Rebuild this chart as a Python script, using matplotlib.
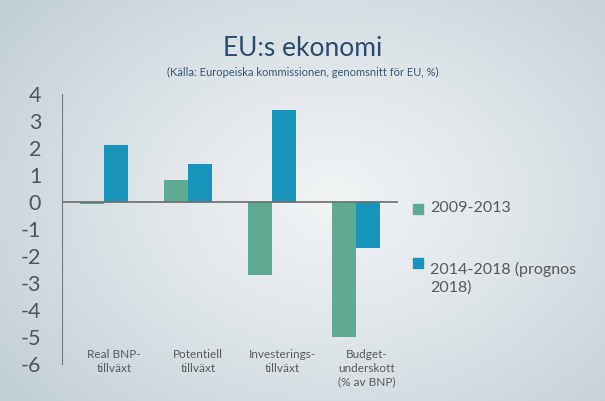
import numpy as np
import matplotlib.pyplot as plt
from matplotlib.patches import Rectangle
from matplotlib.colors import LinearSegmentedColormap

plt.rcParams['font.family'] = ['Lato', 'DejaVu Sans']

categories = ['Real BNP-\ntillväxt', 'Potentiell\ntillväxt',
              'Investerings-\ntillväxt', 'Budget-\nunderskott\n(% av BNP)']
s2009_2013 = [-0.08, 0.82, -2.7, -5.0]
s2014_2018 = [2.1, 1.4, 3.4, -1.7]
series_names = ['2009-2013', '2014-2018 (prognos\n2018)']
yticks = [4, 3, 2, 1, 0, -1, -2, -3, -4, -5, -6]

c_green = '#5eaa93'
c_blue = '#1893ba'

fig = plt.figure(figsize=(6.05, 4.01), dpi=100)

# bakgrund med mjuk gradient
bg = fig.add_axes([0, 0, 1, 1])
yy, xx = np.mgrid[0:1:200j, 0:1:300j]
r = np.sqrt(((xx - 0.55) / 0.8) ** 2 + ((yy - 0.5) / 0.9) ** 2)
cmap = LinearSegmentedColormap.from_list('bg', ['#f2f4f5', '#dde4e8', '#c3cfd7'])
bg.imshow(r, cmap=cmap, extent=[0, 1, 0, 1], aspect='auto', vmin=0, vmax=0.85)
bg.axis('off')

ax = fig.add_axes([0.1025, 0.092, 0.556, 0.674])
ax.patch.set_alpha(0)
x = np.arange(len(categories))
w = 0.286
ax.bar(x - w / 2, s2009_2013, w, color=c_green)
ax.bar(x + w / 2, s2014_2018, w, color=c_blue)
ax.axhline(0, color='#6b6b6b', linewidth=1.2)

ax.set_xlim(-0.5, 3.5)
ax.set_ylim(-6, 4)
ax.set_yticks(yticks)
ax.set_yticklabels([str(t) for t in yticks], fontsize=15.5, color='#555555')
ax.tick_params(axis='y', length=0, pad=15)
ax.set_xticks([])
for s in ['top', 'right', 'bottom']:
    ax.spines[s].set_visible(False)
ax.spines['left'].set_color('#7a7a7a')

for i, lab in enumerate(categories):
    ax.text(i + 0.12, -5.45, lab, ha='center', va='top', fontsize=8.5,
            color='#5a5a5a', linespacing=1.3)

fig.text(0.5, 0.878, 'EU:s ekonomi', ha='center', va='center',
         fontsize=19, color='#2d4a6e')
fig.text(0.5, 0.82, '(Källa: Europeiska kommissionen, genomsnitt för EU, %)',
         ha='center', va='center', fontsize=8, color='#3a5577')

# legend
fig.patches.append(Rectangle((413 / 605, 1 - 214 / 401), 10 / 605, 10 / 401,
                             transform=fig.transFigure, color=c_green))
fig.text(430 / 605, 1 - 208 / 401, series_names[0], va='center',
         fontsize=11.5, color='#5a5a5a')
fig.patches.append(Rectangle((413 / 605, 1 - 268 / 401), 10 / 605, 10 / 401,
                             transform=fig.transFigure, color=c_blue))
fig.text(430 / 605, 1 - 262 / 401, series_names[1], va='top',
         fontsize=11.5, color='#5a5a5a', linespacing=1.3)

fig.savefig('out.png', dpi=100)
